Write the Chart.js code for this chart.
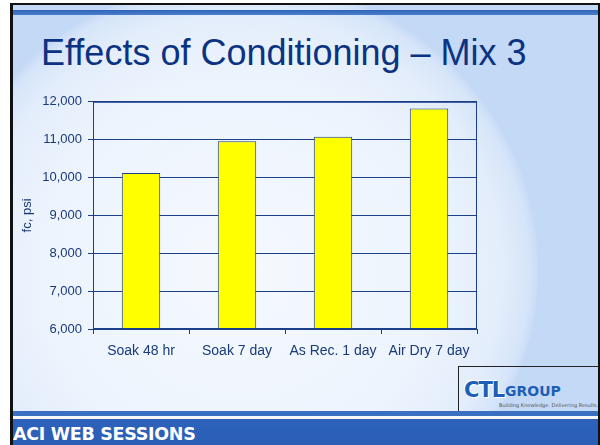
<!DOCTYPE html>
<html>
<head>
<meta charset="utf-8">
<script src="https://cdn.jsdelivr.net/npm/chart.js@4/dist/chart.umd.min.js"></script>
<style>
  html, body { margin: 0; padding: 0; background: #fff; }
  #slide {
    position: absolute; left: 10px; top: 3px; width: 585px; height: 442px;
    border-left: 3px solid #111; border-top: 2px solid #111; border-right: 2px solid #111;
    overflow: hidden;
    background:
      radial-gradient(ellipse 300px 290px at 225px 265px, #f5f9fe 0, #edf4fd 65%, #e3edfb 88%, #d6e5f9 97%, #c9dcf6 100%, #c4d9f5 100%);
  }
  #topbar {
    position: absolute; left: 0; top: 5px; width: 100%; height: 5px;
    background: linear-gradient(180deg, #2f64b8, #4a7fcc);
  }
  #botbar1 {
    position: absolute; left: 0; top: 406px; width: 100%; height: 5px;
    background: #3a6fc2;
  }
  #botline {
    position: absolute; left: 0; top: 411px; width: 100%; height: 3px; background: #f4f7fb;
  }
  #botbar2 {
    position: absolute; left: 0; top: 414px; width: 100%; height: 40px;
    background: linear-gradient(180deg, #2d62bb, #2a5cb2);
  }
  #aci {
    position: absolute; left: 0px; top: 419px; color: #fff;
    font: bold 17.5px "DejaVu Sans", sans-serif; letter-spacing: -0.3px;
  }
  #title {
    position: absolute; left: 41px; top: 32px; color: #0b3382;
    font: 36px "Liberation Sans", Arial, sans-serif; white-space: nowrap;
  }
  #logo {
    position: absolute; left: 445px; top: 361px; width: 140px; height: 44px;
    border-left: 1px solid #222; border-top: 1px solid #222;
  }
  #logo .ctl {
    position: absolute; left: 5px; top: 11px; color: #1d5fb6;
    font: bold 21px "DejaVu Sans", sans-serif; letter-spacing: -1px;
    text-shadow: 1px 1px 0 #fff, -1px -1px 0 #fff;
  }
  #logo .grp {
    position: absolute; left: 46px; top: 16px; color: #1d5fb6;
    font: bold 14px "DejaVu Sans", sans-serif;
  }
  #logo .tag {
    position: absolute; left: 40px; top: 35px; color: #555;
    font: 5px "DejaVu Sans", sans-serif; white-space: nowrap;
  }
  #chart { position: absolute; left: 0; top: 88px; }
</style>
</head>
<body>
<div id="slide">
  <div id="topbar"></div>
  <div id="botbar1"></div>
  <div id="botline"></div>
  <div id="botbar2"></div>
  <div id="aci">ACI WEB SESSIONS</div>
  <div id="logo">
    <span class="ctl">CTL</span><span class="grp">GROUP</span>
    <span class="tag">Building Knowledge. Delivering Results.</span>
  </div>
</div>
<div id="title">Effects of Conditioning – Mix 3</div>
<canvas id="chart" width="490" height="280"></canvas>
<script>
// Datos del gráfico
const categorias = ['Soak 48 hr', 'Soak 7 day', 'As Rec. 1 day', 'Air Dry 7 day'];
const valores = [10120, 10960, 11080, 11820];
const yMin = 6000;
const yMax = 12000;
const yPaso = 1000;

const azul = '#1c3f8c';
const textoAzul = '#1a3a7a';

// borde del área de trazado
const bordePlot = {
  id: 'bordePlot',
  afterDatasetsDraw(chart) {
    const { ctx, chartArea: a } = chart;
    ctx.save();
    ctx.strokeStyle = azul;
    ctx.lineWidth = 1;
    ctx.strokeRect(a.left + 0.5, a.top + 0.5, a.right - a.left - 1, a.bottom - a.top - 1);
    ctx.restore();
  }
};

const chart = new Chart(document.getElementById('chart').getContext('2d'), {
  type: 'bar',
  data: {
    labels: categorias,
    datasets: [{
      data: valores,
      backgroundColor: '#ffff00',
      borderColor: azul,
      borderWidth: 1,
      barPercentage: 0.4,
      categoryPercentage: 1
    }]
  },
  options: {
    responsive: false,
    animation: false,
    devicePixelRatio: 1,
    layout: { padding: { left: 0, top: 9, right: 13, bottom: 0 } },
    plugins: { legend: { display: false }, tooltip: { enabled: false } },
    scales: {
      y: {
        min: yMin,
        max: yMax,
        afterFit(scale) { scale.width = 93; },
        ticks: {
          stepSize: yPaso,
          color: textoAzul,
          padding: 6,
          font: { family: 'Liberation Sans', size: 13 },
          callback: v => v.toLocaleString('en-US')
        },
        grid: { color: azul, lineWidth: 1, tickLength: 5 },
        border: { color: azul, width: 1 },
        title: {
          display: true,
          text: 'fc, psi',
          color: textoAzul,
          font: { family: 'Liberation Sans', size: 13 },
          padding: { top: 20, bottom: 0 }
        }
      },
      x: {
        afterFit(scale) { scale.height = 39; },
        ticks: {
          color: textoAzul,
          padding: 9,
          maxRotation: 0,
          font: { family: 'Liberation Sans', size: 14 }
        },
        grid: { drawOnChartArea: false, color: azul, tickLength: 5, offset: true },
        border: { color: azul, width: 1 }
      }
    }
  },
  plugins: [bordePlot]
});
</script>
</body>
</html>
